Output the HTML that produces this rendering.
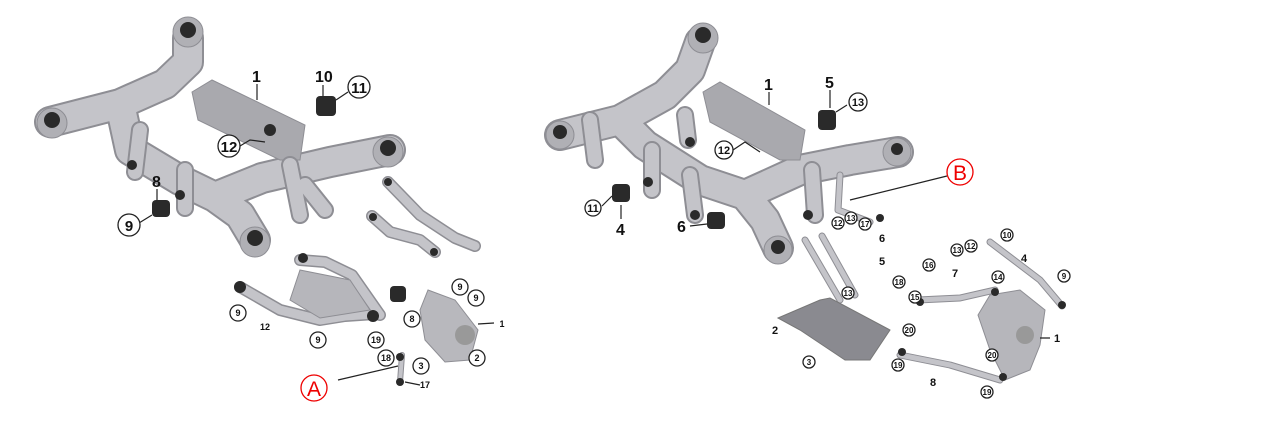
<!DOCTYPE html>
<html><head><style>
html,body{margin:0;padding:0;background:#fff;width:1279px;height:442px;overflow:hidden}
svg{display:block}
text{font-family:"Liberation Sans",sans-serif;font-weight:bold;fill:#111}
.o{fill:none;stroke:#8e8e94;stroke-linecap:round;stroke-linejoin:round}
.f{fill:none;stroke:#c4c4c9;stroke-linecap:round;stroke-linejoin:round}
.l{stroke:#222;stroke-width:1.2;fill:none}
.c{fill:#fff;stroke:#222;stroke-width:1.3}
.m{fill:#2a2a2a}
.g{fill:#b0b0b5;stroke:#8e8e94}
</style></head><body>
<svg width="1279" height="442" viewBox="0 0 1279 442">
<!-- LEFT FRAME -->
<g>
<path class="o" stroke-width="32" d="M50 122 L120 104 L165 84 L188 62 L188 38 M130 150 L180 180 L215 197 L262 178 L330 162 L390 150 M215 197 L240 215 L255 240 M120 104 L130 150"/>
<path class="f" stroke-width="28" d="M50 122 L120 104 L165 84 L188 62 L188 38 M130 150 L180 180 L215 197 L262 178 L330 162 L390 150 M215 197 L240 215 L255 240 M120 104 L130 150"/>
<polygon points="192,92 212,80 305,125 300,160 280,160 198,120" fill="#a9a9ae" stroke="#8e8e94"/>
<path class="o" stroke-width="18" d="M140 130 L135 172 M185 170 L185 208 M290 165 L300 215 M305 185 L325 210"/>
<path class="f" stroke-width="14" d="M140 130 L135 172 M185 170 L185 208 M290 165 L300 215 M305 185 L325 210"/>
<!-- arms -->
<path class="o" stroke-width="12" d="M388 182 L420 215 L455 238 L475 246 M372 216 L390 232 L420 240 L435 252 M240 287 L280 310 L320 320 L345 316 L375 314 M300 260 L325 262 L352 275 L380 315"/>
<path class="f" stroke-width="9" d="M388 182 L420 215 L455 238 L475 246 M372 216 L390 232 L420 240 L435 252 M240 287 L280 310 L320 320 L345 316 L375 314 M300 260 L325 262 L352 275 L380 315"/>
<polygon points="300,270 350,280 370,310 320,318 290,300" fill="#b6b6bb" stroke="#8e8e94"/>
<polygon points="428,290 455,300 478,330 470,360 445,362 425,340 420,310" fill="#b8b8bd" stroke="#8e8e94"/>
<circle cx="465" cy="335" r="10" fill="#999"/>
<path class="o" stroke-width="6" d="M402 355 L400 382"/><path class="f" stroke-width="4" d="M402 355 L400 382"/>
<!-- mounts -->
<g class="g"><circle cx="188" cy="32" r="15"/><circle cx="52" cy="123" r="15"/><circle cx="388" cy="152" r="15"/><circle cx="255" cy="242" r="15"/></g>
<g class="m"><circle cx="188" cy="30" r="8"/><circle cx="52" cy="120" r="8"/><circle cx="388" cy="148" r="8"/><circle cx="255" cy="238" r="8"/>
<rect x="316" y="96" width="20" height="20" rx="4"/><rect x="152" y="200" width="18" height="17" rx="4"/><rect x="390" y="286" width="16" height="16" rx="4"/>
<circle cx="132" cy="165" r="5"/><circle cx="180" cy="195" r="5"/><circle cx="270" cy="130" r="6"/><circle cx="240" cy="287" r="6"/><circle cx="373" cy="316" r="6"/><circle cx="303" cy="258" r="5"/><circle cx="388" cy="182" r="4"/><circle cx="373" cy="217" r="4"/><circle cx="434" cy="252" r="4"/><circle cx="400" cy="357" r="4"/><circle cx="400" cy="382" r="4"/></g>
</g>
<!-- RIGHT FRAME -->
<g>
<path class="o" stroke-width="32" d="M560 135 L620 120 L665 95 L690 70 L700 42 M645 145 L700 180 L745 195 L800 170 L850 160 L898 152 M745 195 L765 220 L778 248 M620 120 L645 145"/>
<path class="f" stroke-width="28" d="M560 135 L620 120 L665 95 L690 70 L700 42 M645 145 L700 180 L745 195 L800 170 L850 160 L898 152 M745 195 L765 220 L778 248 M620 120 L645 145"/>
<polygon points="703,92 720,82 805,130 800,160 780,160 710,122" fill="#a9a9ae" stroke="#8e8e94"/>
<path class="o" stroke-width="18" d="M652 150 L652 190 M690 175 L695 215 M685 115 L688 140 M812 170 L815 215 M590 120 L595 160"/>
<path class="f" stroke-width="14" d="M652 150 L652 190 M690 175 L695 215 M685 115 L688 140 M812 170 L815 215 M590 120 L595 160"/>
<path class="o" stroke-width="7" d="M840 175 L838 210 L870 222 M805 240 L840 300 M822 236 L855 295 M918 300 L960 298 L995 290 M990 242 L1040 280 L1062 306 M900 355 L950 365 L1000 380"/>
<path class="f" stroke-width="5" d="M840 175 L838 210 L870 222 M805 240 L840 300 M822 236 L855 295 M918 300 L960 298 L995 290 M990 242 L1040 280 L1062 306 M900 355 L950 365 L1000 380"/>
<polygon points="778,318 820,300 830,298 890,330 870,360 845,360 800,330" fill="#8a8a90" stroke="#777"/>
<polygon points="990,295 1020,290 1045,310 1040,345 1030,370 1005,380 990,350 978,315" fill="#b6b6bb" stroke="#8e8e94"/>
<circle cx="1025" cy="335" r="9" fill="#999"/>
<g class="g"><circle cx="703" cy="38" r="15"/><circle cx="560" cy="135" r="14"/><circle cx="897" cy="152" r="14"/><circle cx="778" cy="250" r="14"/></g>
<g class="m"><circle cx="703" cy="35" r="8"/><circle cx="560" cy="132" r="7"/><circle cx="897" cy="149" r="6"/><circle cx="778" cy="247" r="7"/>
<rect x="818" y="110" width="18" height="20" rx="4"/><rect x="612" y="184" width="18" height="18" rx="4"/><rect x="707" y="212" width="18" height="17" rx="4"/>
<circle cx="690" cy="142" r="5"/><circle cx="648" cy="182" r="5"/><circle cx="695" cy="215" r="5"/><circle cx="808" cy="215" r="5"/><circle cx="880" cy="218" r="4"/><circle cx="920" cy="302" r="4"/><circle cx="995" cy="292" r="4"/><circle cx="902" cy="352" r="4"/><circle cx="1003" cy="377" r="4"/><circle cx="1062" cy="305" r="4"/></g>
</g>
<!-- leader lines -->
<path class="l" d="M257 84 L257 100 M323 85 L323 96 M348 92 L336 100 M240 146 L250 140 L265 142 M157 189 L157 200 M139 223 L152 215 M338 380 L398 366 M947 176 L850 200 M769 92 L769 105 M830 90 L830 108 M847 105 L836 112 M733 150 L745 142 L760 152 M602 206 L612 196 M621 219 L621 205 M690 226 L707 224 M494 323 L478 324 M420 385 L405 382 M1050 338 L1040 338"/>
<g font-size="16">
<text x="252" y="82">1</text><text x="315" y="82">10</text><text x="152" y="187">8</text>
<text x="764" y="90">1</text><text x="825" y="88">5</text><text x="616" y="235">4</text><text x="677" y="232">6</text>
</g>
<g font-size="15" text-anchor="middle">
<circle class="c" cx="359" cy="87" r="11"/><text x="359" y="93">11</text>
<circle class="c" cx="229" cy="146" r="11"/><text x="229" y="152">12</text>
<circle class="c" cx="129" cy="225" r="11"/><text x="129" y="231">9</text>
</g>
<g font-size="11" text-anchor="middle">
<circle class="c" cx="858" cy="102" r="9"/><text x="858" y="106">13</text>
<circle class="c" cx="724" cy="150" r="9"/><text x="724" y="154">12</text>
<circle class="c" cx="593" cy="208" r="8"/><text x="593" y="212">11</text>
</g>
<g font-size="9" text-anchor="middle">
<circle class="c" cx="238" cy="313" r="8"/><text x="238" y="316">9</text>
<circle class="c" cx="318" cy="340" r="8"/><text x="318" y="343">9</text>
<circle class="c" cx="376" cy="340" r="8"/><text x="376" y="343">19</text>
<circle class="c" cx="386" cy="358" r="8"/><text x="386" y="361">18</text>
<circle class="c" cx="421" cy="366" r="8"/><text x="421" y="369">3</text>
<circle class="c" cx="477" cy="358" r="8"/><text x="477" y="361">2</text>
<circle class="c" cx="412" cy="319" r="8"/><text x="412" y="322">8</text>
<circle class="c" cx="460" cy="287" r="8"/><text x="460" y="290">9</text>
<circle class="c" cx="476" cy="298" r="8"/><text x="476" y="301">9</text>
<text x="265" y="330">12</text><text x="502" y="327">1</text><text x="425" y="388">17</text>
</g>
<g font-size="8" text-anchor="middle">
<circle class="c" cx="851" cy="218" r="6"/><text x="851" y="221">13</text>
<circle class="c" cx="838" cy="223" r="6"/><text x="838" y="226">12</text>
<circle class="c" cx="865" cy="224" r="6"/><text x="865" y="227">17</text>
<circle class="c" cx="929" cy="265" r="6"/><text x="929" y="268">16</text>
<circle class="c" cx="915" cy="297" r="6"/><text x="915" y="300">15</text>
<circle class="c" cx="899" cy="282" r="6"/><text x="899" y="285">18</text>
<circle class="c" cx="848" cy="293" r="6"/><text x="848" y="296">13</text>
<circle class="c" cx="1007" cy="235" r="6"/><text x="1007" y="238">10</text>
<circle class="c" cx="971" cy="246" r="6"/><text x="971" y="249">12</text>
<circle class="c" cx="957" cy="250" r="6"/><text x="957" y="253">13</text>
<circle class="c" cx="998" cy="277" r="6"/><text x="998" y="280">14</text>
<circle class="c" cx="1064" cy="276" r="6"/><text x="1064" y="279">9</text>
<circle class="c" cx="809" cy="362" r="6"/><text x="809" y="365">3</text>
<circle class="c" cx="909" cy="330" r="6"/><text x="909" y="333">20</text>
<circle class="c" cx="898" cy="365" r="6"/><text x="898" y="368">19</text>
<circle class="c" cx="992" cy="355" r="6"/><text x="992" y="358">20</text>
<circle class="c" cx="987" cy="392" r="6"/><text x="987" y="395">19</text>
</g>
<g font-size="11" text-anchor="middle">
<text x="882" y="242">6</text><text x="882" y="265">5</text><text x="955" y="277">7</text><text x="1024" y="262">4</text>
<text x="775" y="334">2</text><text x="933" y="386">8</text><text x="1057" y="342">1</text>
</g>
<g text-anchor="middle">
<circle cx="314" cy="388" r="13" fill="#fff" stroke="#e00" stroke-width="1.3"/>
<text x="314" y="396" font-size="21" style="fill:#e00;font-weight:normal">A</text>
<circle cx="960" cy="172" r="13" fill="#fff" stroke="#e00" stroke-width="1.3"/>
<text x="960" y="180" font-size="21" style="fill:#e00;font-weight:normal">B</text>
</g>
</svg>
</body></html>
